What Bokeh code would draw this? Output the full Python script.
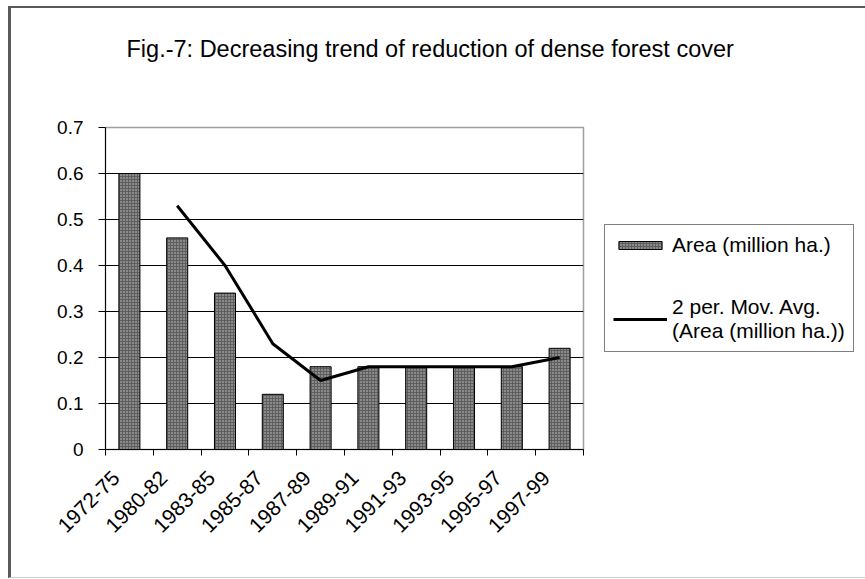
import math
from bokeh.plotting import figure
from bokeh.models import FixedTicker, Legend, LegendItem, Range1d, Title
from bokeh.embed import file_html
from bokeh.resources import INLINE

# ---- data ----
periods = ["1972-75", "1980-82", "1983-85", "1985-87", "1987-89",
           "1989-91", "1991-93", "1993-95", "1995-97", "1997-99"]
area = [0.60, 0.46, 0.34, 0.12, 0.18, 0.18, 0.18, 0.18, 0.18, 0.22]
# 2-period moving average, plotted from the 2nd category onwards
mov_avg = [0.53, 0.40, 0.23, 0.15, 0.18, 0.18, 0.18, 0.18, 0.20]
y_ticks = [0, 0.1, 0.2, 0.3, 0.4, 0.5, 0.6, 0.7]
y_tick_labels = ["0", "0.1", "0.2", "0.3", "0.4", "0.5", "0.6", "0.7"]
title_text = "Fig.-7: Decreasing trend of reduction of dense forest cover"
bar_label = "Area (million ha.)"
line_label = "2 per. Mov. Avg.\n(Area (million ha.))"

FONT = "Liberation Sans"

x_pos = [i + 0.5 for i in range(len(periods))]
ma_x = x_pos[len(x_pos) - len(mov_avg):]
boundaries = list(range(len(periods) + 1))
# rotated labels end slightly left of the category centre (as in the original)
label_pos = [x - 0.28 for x in x_pos]

p = figure(frame_width=478, frame_height=322,
           x_range=Range1d(0, len(periods)), y_range=Range1d(0, 0.7),
           output_backend="svg", toolbar_location=None,
           min_border_left=94, min_border_right=0,
           min_border_top=119, min_border_bottom=128,
           background_fill_color="white", border_fill_color="white")

bars = p.vbar(x=x_pos, top=area, bottom=0, width=0.44,
              fill_color="#5e5e5e", line_color="black", line_width=1,
              hatch_pattern="dot", hatch_color="#cfcfcf",
              hatch_scale=3, hatch_weight=1.5)
ma_line = p.line(ma_x, mov_avg, line_color="black", line_width=3)

# x axis: labels near category centres, tick marks at category boundaries
xa = p.xaxis[0]
xa.ticker = FixedTicker(ticks=label_pos, minor_ticks=boundaries)
xa.major_label_overrides = {x: lab for x, lab in zip(label_pos, periods)}
xa.major_tick_line_color = None
xa.minor_tick_line_color = "black"
xa.minor_tick_in = 0
xa.minor_tick_out = 6
xa.major_label_orientation = math.pi / 4
xa.major_label_standoff = 19
xa.major_label_text_font = FONT
xa.major_label_text_font_size = "21px"
xa.major_label_text_color = "black"
xa.axis_line_color = "black"

ya = p.yaxis[0]
ya.ticker = FixedTicker(ticks=y_ticks)
ya.major_label_overrides = {v: lab for v, lab in zip(y_ticks, y_tick_labels)}
ya.major_tick_in = 0
ya.major_tick_out = 7
ya.major_tick_line_color = "black"
ya.minor_tick_line_color = None
ya.major_label_standoff = 15
ya.major_label_text_font = FONT
ya.major_label_text_font_size = "19px"
ya.major_label_text_color = "black"
ya.axis_line_color = "black"

p.xgrid.visible = False
p.ygrid.ticker = FixedTicker(ticks=y_ticks[1:-1])
p.ygrid.grid_line_color = "black"
p.ygrid.grid_line_width = 1

p.outline_line_color = "#a0a0a0"
p.outline_line_width = 1.5

# title placed well above the plot area: a spacer title next to the frame,
# then the real title outside it
p.title.text = ""
spacer = Title(text=" ", text_font_size="1px", standoff=58)
p.add_layout(spacer, "above")
main_title = Title(text=title_text, text_font=FONT, text_font_size="23.5px",
                   text_font_style="normal", text_color="black",
                   align="left", offset=21, standoff=10)
p.add_layout(main_title, "above")

legend = Legend(items=[LegendItem(label=bar_label, renderers=[bars]),
                       LegendItem(label=line_label, renderers=[ma_line])],
                location=(21, 97), orientation="vertical",
                border_line_color="black", border_line_width=1,
                background_fill_color="white", background_fill_alpha=1,
                padding=8, spacing=38, margin=0,
                glyph_width=54, glyph_height=10, label_standoff=5,
                label_text_font=FONT, label_text_font_size="21px",
                label_text_line_height=1.18,
                label_text_color="black")
p.add_layout(legend, "right")

p.styles = {"margin-left": "8px", "margin-top": "6px",
            "border-left": "3px solid #5a5a5a", "border-top": "2px solid #5a5a5a",
            "border-bottom": "1px solid #d0d0d0"}

open("out.html", "w").write(file_html(p, INLINE))
